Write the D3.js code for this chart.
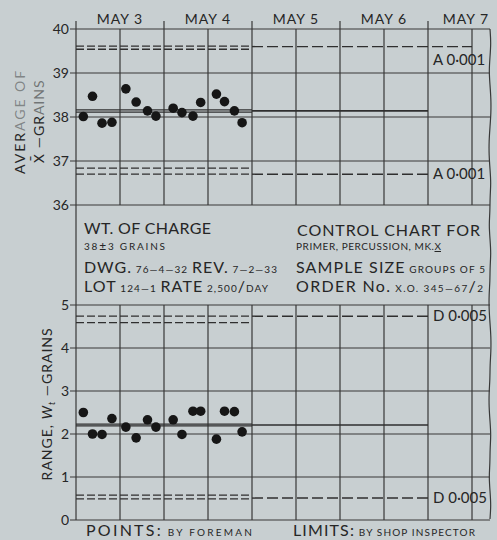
<!DOCTYPE html>
<html>
<head>
<meta charset="utf-8">
<script src="https://cdn.jsdelivr.net/npm/d3@7"></script>
<style>
  html, body { margin: 0; padding: 0; background: #c8cfd1; }
  svg { display: block; font-family: Lato, "Open Sans", sans-serif; }
  .grid { stroke: #383838; stroke-width: 1.2; fill: none; }
  .ink { fill: #262626; }
</style>
</head>
<body>
<div id="chart"></div>
<script>
// sample times in hours from the start of May 3
const sampleHours = [2.0, 4.5, 7.1, 9.8, 13.6, 16.4, 19.5, 21.8, 26.5, 28.9, 31.9, 34.0, 38.3, 40.5, 43.2, 45.3];
const averages = [38.01, 38.47, 37.86, 37.88, 38.64, 38.34, 38.14, 38.02, 38.2, 38.1, 38.02, 38.33, 38.52, 38.35, 38.14, 37.87];
const ranges = [2.5, 2.0, 1.99, 2.36, 2.16, 1.91, 2.33, 2.16, 2.33, 1.99, 2.53, 2.53, 1.88, 2.53, 2.52, 2.05];

const days = ['MAY 3', 'MAY 4', 'MAY 5', 'MAY 6', 'MAY 7'];
const avgTicks = [36, 37, 38, 39, 40];
const rangeTicks = [0, 1, 2, 3, 4, 5];

// limit lines: pairs over the sampled days, then a single line carried forward
const avgUpper = [39.61, 39.54], avgUpperFwd = 39.6;
const avgCenter = [38.16, 38.11], avgCenterFwd = 38.14;
const avgLower = [36.84, 36.70], avgLowerFwd = 36.70;
const rngUpper = [4.74, 4.59], rngUpperFwd = 4.74;
const rngCenter = [2.23, 2.19], rngCenterFwd = 2.21;
const rngLower = [0.58, 0.49], rngLowerFwd = 0.51;

const W = 497, H = 540;
const svg = d3.select('#chart').append('svg').attr('width', W).attr('height', H);

const x = d3.scaleLinear().domain([0, 120]).range([76, 516]);
const yA = d3.scaleLinear().domain([36, 40]).range([205, 29]);
const yR = d3.scaleLinear().domain([0, 5]).range([520, 305]);
const rightEdge = 490;
const dataEnd = 48, fwdEnd = 96;

const gridHours = d3.range(12, 109, 12);

// vertical rules as paths (a hair of x offset keeps the renderer from dropping them)
function vline(g, xPos, ya, yb, w) {
  return g.append('path').attr('class', 'grid')
    .attr('stroke-width', w || 1.2)
    .attr('d', 'M' + xPos + ',' + ya + 'L' + (xPos + 0.01) + ',' + yb);
}

function drawPanel(y, ticks, fmt) {
  const g = svg.append('g');
  const [y0, y1] = y.range();
  g.selectAll('.h').data(ticks).enter().append('line')
    .attr('class', 'grid')
    .attr('x1', x(0) - 6).attr('x2', rightEdge)
    .attr('y1', d => y(d)).attr('y2', d => y(d));
  gridHours.forEach(h => vline(g, x(h), y1, y0));
  vline(g, x(0), y1, y0, 1.5);
  g.selectAll('.tl').data(ticks).enter().append('text')
    .attr('class', 'ink')
    .attr('x', x(0) - 7).attr('y', d => y(d) + 5)
    .attr('text-anchor', 'end').attr('font-size', 14)
    .text(fmt);
  return g;
}

function limitLines(g, y, pair, fwd, solid, fwdEndHour) {
  const dash = solid ? null : '8,3';
  g.selectAll(null).data(pair).enter().append('line')
    .attr('stroke', '#2f2f2f').attr('stroke-width', 1.3)
    .attr('stroke-dasharray', dash)
    .attr('x1', x(0)).attr('x2', x(dataEnd))
    .attr('y1', d => y(d)).attr('y2', d => y(d));
  g.append('line')
    .attr('stroke', '#2f2f2f').attr('stroke-width', solid ? 1.6 : 1.4)
    .attr('stroke-dasharray', solid ? null : '11,4')
    .attr('x1', x(dataEnd)).attr('x2', x(fwdEndHour))
    .attr('y1', y(fwd)).attr('y2', y(fwd));
}

function limitLabel(g, xPos, yPos, main, sub) {
  g.append('text').attr('class', 'ink')
    .attr('x', xPos).attr('y', yPos).attr('font-size', 15)
    .text(main + ' ' + sub);
}

function points(g, y, values) {
  g.selectAll('circle').data(values).enter().append('circle')
    .attr('cx', (d, i) => x(sampleHours[i]))
    .attr('cy', d => y(d))
    .attr('r', 4.8)
    .attr('fill', '#161616');
}

// top panel: averages
const gA = drawPanel(yA, avgTicks, d => d);
limitLines(gA, yA, avgUpper, avgUpperFwd, false, 108);
limitLines(gA, yA, avgCenter, avgCenterFwd, true, fwdEnd);
limitLines(gA, yA, avgLower, avgLowerFwd, false, fwdEnd);
limitLabel(gA, x(fwdEnd) + 5, yA(avgUpperFwd) + 18, 'A', '0·001');
limitLabel(gA, x(fwdEnd) + 5, yA(avgLowerFwd) + 5, 'A', '0·001');
points(gA, yA, averages);

// bottom panel: ranges
const gR = drawPanel(yR, rangeTicks, d => d);
limitLines(gR, yR, rngUpper, rngUpperFwd, false, fwdEnd);
limitLines(gR, yR, rngCenter, rngCenterFwd, true, fwdEnd);
limitLines(gR, yR, rngLower, rngLowerFwd, false, fwdEnd);
limitLabel(gR, x(fwdEnd) + 5, yR(rngUpperFwd) + 5, 'D', '0·005');
limitLabel(gR, x(fwdEnd) + 5, yR(rngLowerFwd) + 5, 'D', '0·005');
points(gR, yR, ranges);

// title block frame between the panels
vline(svg, x(0), yA(36), yR(5), 1.3);

// ragged right edge of the sheet
const edgeY = d3.range(29, 521, 14);
const edgeWobble = [0, 1, 0, -1, 0, 1, 1, 0, -1, -1, 0, 1, 0, 0, -1, 0, 1, 0, 0, -1, -1, 0, 1, 1, 0, 0, -1, -1, 0, 1, 0, 0, -1, 0, 1, 0];
svg.append('path').attr('class', 'grid').attr('stroke-width', 1.3)
  .attr('d', d3.line().curve(d3.curveBasis)(edgeY.map((v, i) => [rightEdge + edgeWobble[i % edgeWobble.length], v])));

// day labels and boundary ticks
[0, 24, 48, 72, 96].forEach(h => vline(svg, x(h), 21, 29));
svg.selectAll('.day').data(days).enter().append('text')
  .attr('class', 'ink')
  .attr('x', (d, i) => Math.min(x(i * 24 + 12), rightEdge - 24))
  .attr('y', 24).attr('text-anchor', 'middle')
  .attr('font-size', 14).attr('letter-spacing', 1)
  .text(d => d);

// axis titles
svg.append('text').attr('class', 'ink')
  .attr('transform', 'translate(25,' + yA(37.9) + ') rotate(-90)')
  .attr('text-anchor', 'middle').attr('font-size', 14).attr('letter-spacing', 2)
  .call(t => {
    t.append('tspan').text('AVER');
    t.append('tspan').attr('fill-opacity', 0.45).text('AGE OF');
  });
svg.append('text').attr('class', 'ink')
  .attr('transform', 'translate(44,' + yA(37.9) + ') rotate(-90)')
  .attr('text-anchor', 'middle').attr('font-size', 14).attr('letter-spacing', 1)
  .call(t => {
    t.append('tspan').attr('font-family', 'DejaVu Sans').text('X\u0304');
    t.append('tspan').text(' \u2014GR');
    t.append('tspan').attr('fill-opacity', 0.55).text('AINS');
  });
svg.append('text').attr('class', 'ink')
  .attr('transform', 'translate(52,' + yR(2.7) + ') rotate(-90)')
  .attr('text-anchor', 'middle').attr('font-size', 14).attr('letter-spacing', 1)
  .call(t => {
    t.append('tspan').text('RANGE, ');
    t.append('tspan').attr('font-style', 'italic').text('W');
    t.append('tspan').attr('font-size', 9).attr('font-style', 'italic').attr('dy', 3).text('t');
    t.append('tspan').attr('dy', -3).text(' \u2014GRAINS');
  });

// title block text, each line stretched to the width it has on the sheet
const big = 16, small = 10;
function block(xPos, yPos, width, parts) {
  const t = svg.append('text').attr('class', 'ink').attr('x', xPos).attr('y', yPos)
    .attr('textLength', width).attr('lengthAdjust', 'spacing');
  parts.forEach(p => {
    const s = t.append('tspan').attr('font-size', p[1]).text(p[0]);
    if (p[2]) s.attr('text-decoration', p[2]);
  });
  return t;
}
block(84, 234, 127, [['WT. OF CHARGE', big]]);
block(84, 250, 81, [['38', small], ['\u00b1', 12], ['3 GRAINS', small]]);
block(84, 273, 193, [['DWG.', big], [' 76\u20144\u201432 ', small], ['REV.', big], [' 7\u20142\u201433', small]]);
block(84, 292, 184, [['LOT', big], [' 124\u20141 ', small], ['RATE', big], [' 2,500', small], ['/', big], ['DAY', small]]);

block(297, 236, 183, [['CONTROL CHART FOR', big]]);
block(296, 250, 145, [['PRIMER, PERCUSSION, MK.', small], ['X', small, 'underline']]);
block(296, 273, 189, [['SAMPLE SIZE', big], [' GROUPS OF 5', small]]);
block(296, 292, 187, [['ORDER No.', big], [' X.O. 345\u201467', small], ['/', big], ['2', small]]);

// footer
block(86, 536, 166, [['POINTS:', big], [' BY FOREMAN', small]]);
block(293, 536, 182, [['LIMITS:', big], [' BY SHOP INSPECTOR', small]]);
</script>
</body>
</html>
